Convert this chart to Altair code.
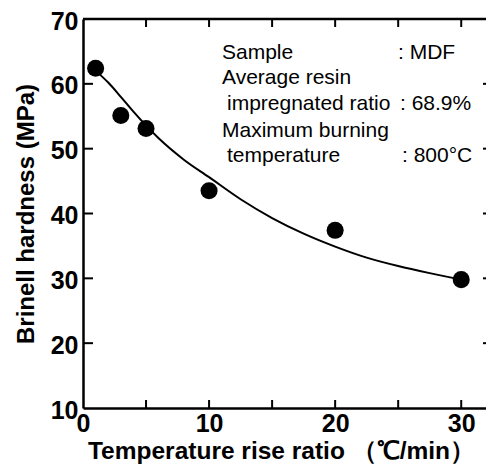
import altair as alt
import pandas as pd

# measured data points
rate = [1, 3, 5, 10, 20, 30]
hardness = [62.4, 55.1, 53.1, 43.5, 37.4, 29.8]

# fitted curve
curve_x = [1.3, 2, 3, 4, 6, 8, 10, 12.5, 15, 17.5, 20, 22.5, 25, 27.5, 30]
curve_y = [61.5, 60.2, 58.0, 55.7, 51.6, 48.3, 45.6, 42.2, 39.3, 36.9, 34.9, 33.2, 31.9, 30.8, 29.8]

x_tick_labels = [0, 10, 20, 30]
x_minor_ticks = [5, 10, 15, 20, 25, 30]
y_tick_labels = [10, 20, 30, 40, 50, 60, 70]
y_minor_ticks = [20, 30, 40, 50, 60]

note_left = ["Sample", "Average resin", "impregnated ratio", "Maximum burning", "temperature"]
note_right = [": MDF", "", ": 68.9%", "", ": 800°C"]

W, H = 411, 389
FONT = "Liberation Sans"

pts = pd.DataFrame({"x": rate, "y": hardness})
crv = pd.DataFrame({"x": curve_x, "y": curve_y})
xt = pd.DataFrame({"x": x_minor_ticks})
yt = pd.DataFrame({"y": y_minor_ticks})

xscale = alt.Scale(domain=[0, 32.6], nice=False, zero=False)
yscale = alt.Scale(domain=[10, 70], nice=False, zero=False)

xaxis = alt.Axis(values=x_tick_labels, ticks=False, domain=True, domainColor="black",
                 domainWidth=2.5, grid=False,
                 labelFont=FONT, labelFontSize=25, labelFontWeight="bold",
                 labelColor="black", labelPadding=3, labelFlush=False,
                 title="Temperature rise ratio （℃/min）", titleFont=FONT,
                 titleFontSize=24.5, titleFontWeight="bold", titleColor="black",
                 titleBaseline="alphabetic", titleY=50, titleX=198)
yaxis = alt.Axis(values=y_tick_labels, ticks=False, domain=True, domainColor="black",
                 domainWidth=2.5, grid=False,
                 labelFont=FONT, labelFontSize=25, labelFontWeight="bold",
                 labelColor="black", labelPadding=5, labelOffset=2,
                 title="Brinell hardness (MPa)", titleFont=FONT,
                 titleFontSize=24, titleFontWeight="bold", titleColor="black",
                 titlePadding=12)

points = alt.Chart(pts).mark_circle(size=290, color="black", opacity=1).encode(
    x=alt.X("x:Q", scale=xscale, axis=xaxis),
    y=alt.Y("y:Q", scale=yscale, axis=yaxis),
)
line = alt.Chart(crv).mark_line(color="black", strokeWidth=2, interpolate="monotone").encode(
    x=alt.X("x:Q", scale=xscale), y=alt.Y("y:Q", scale=yscale)
)

top_frame = alt.Chart(pd.DataFrame({"k": [0]})).mark_rule(color="black", strokeWidth=2.5).encode(
    x=alt.value(0), x2=alt.value(W), y=alt.value(0))

bottom_ticks = alt.Chart(xt).mark_rule(color="black", strokeWidth=2).encode(
    x=alt.X("x:Q", scale=xscale), y=alt.value(H), y2=alt.value(H - 8))
top_ticks = alt.Chart(xt).mark_rule(color="black", strokeWidth=2).encode(
    x=alt.X("x:Q", scale=xscale), y=alt.value(0), y2=alt.value(8))
left_ticks = alt.Chart(yt).mark_rule(color="black", strokeWidth=2).encode(
    y=alt.Y("y:Q", scale=yscale), x=alt.value(0), x2=alt.value(10))
right_ticks = alt.Chart(yt).mark_rule(color="black", strokeWidth=2).encode(
    y=alt.Y("y:Q", scale=yscale), x=alt.value(W - 11), x2=alt.value(W))

left_x = [139, 139, 144, 139, 144]
right_x = [315, 315, 317, 315, 319]
baselines = [40, 65, 91, 118, 143]
notes = []
for l, r, lx, rx, yb in zip(note_left, note_right, left_x, right_x, baselines):
    notes.append(alt.Chart(pd.DataFrame({"t": [l]})).mark_text(
        align="left", baseline="alphabetic", font=FONT, fontSize=21, color="black"
    ).encode(text="t:N", x=alt.value(lx), y=alt.value(yb)))
    if r:
        notes.append(alt.Chart(pd.DataFrame({"t": [r]})).mark_text(
            align="left", baseline="alphabetic", font=FONT, fontSize=21, color="black"
        ).encode(text="t:N", x=alt.value(rx), y=alt.value(yb)))

chart = alt.layer(line, points, top_frame, bottom_ticks, top_ticks, left_ticks, right_ticks,
                  *notes).properties(
    width=W, height=H,
    autosize=alt.AutoSizeParams(type="none"),
    padding={"left": 75, "top": 11, "right": -8, "bottom": 58},
    background="white",
).configure_view(stroke=None)

chart.save("out.html", embed_options={"renderer": "svg", "actions": False})
